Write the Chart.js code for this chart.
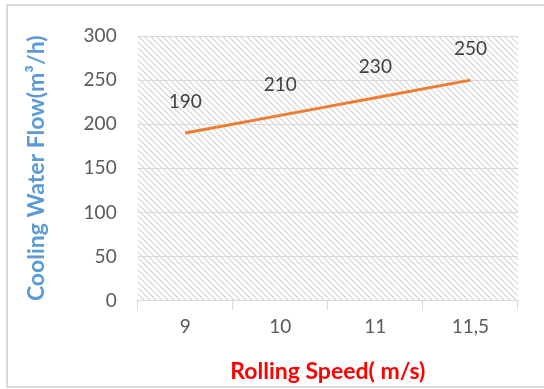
<!DOCTYPE html>
<html>
<head>
<meta charset="utf-8">
<script src="https://cdn.jsdelivr.net/npm/chart.js@4.4.1/dist/chart.umd.min.js"></script>
<style>
  body { margin: 0; background: #fff; overflow: hidden; }
  #wrap { position: relative; width: 544px; height: 389px; }
  #frame { position: absolute; left: 6px; top: 4px; width: 560px; height: 380px; border: 2px solid #d9d9d9; }
  canvas { position: absolute; left: 0; top: 0; }
</style>
</head>
<body>
<div id="wrap">
  <div id="frame"></div>
  <canvas id="flowChart" width="544" height="389"></canvas>
</div>
<script>
// values
const speeds = ['9', '10', '11', '11,5'];
const flowValues = [190, 210, 230, 250];
const yMin = 0;
const yMax = 300;
const yStep = 50;

const xTitle = 'Rolling Speed( m/s)';
const yTitle = 'Cooling Water Flow(m\u00b3/h)';

const FONT = 'Lato, "Open Sans", sans-serif';

// diagonal hatch for the plot area
function makeHatch() {
    const pc = document.createElement('canvas');
    pc.width = 6;
    pc.height = 6;
    const c = pc.getContext('2d');
    c.strokeStyle = '#d4d4d4';
    c.lineWidth = 1.2;
    c.beginPath();
    c.moveTo(-1, -1); c.lineTo(7, 7);
    c.moveTo(-4, 2); c.lineTo(4, 10);
    c.moveTo(2, -4); c.lineTo(10, 4);
    c.stroke();
    return c.createPattern(pc, 'repeat');
}

const hatchBg = {
    id: 'hatchBg',
    beforeDraw(chart) {
        const a = chart.chartArea;
        const ctx = chart.ctx;
        ctx.save();
        ctx.fillStyle = makeHatch();
        ctx.fillRect(a.left, a.top, a.right - a.left, a.bottom - a.top);
        ctx.restore();
    }
};

const valueLabels = {
    id: 'valueLabels',
    afterDatasetsDraw(chart) {
        const ctx = chart.ctx;
        const meta = chart.getDatasetMeta(0);
        ctx.save();
        ctx.font = '19px ' + FONT;
        ctx.fillStyle = '#404040';
        ctx.textAlign = 'center';
        ctx.textBaseline = 'middle';
        meta.data.forEach((pt, i) => {
            ctx.fillText(String(flowValues[i]), pt.x, pt.y - 31);
        });
        ctx.restore();
    }
};

const ctx = document.getElementById('flowChart').getContext('2d');
new Chart(ctx, {
    type: 'line',
    data: {
        labels: speeds,
        datasets: [{
            data: flowValues,
            borderColor: '#ed7d31',
            borderWidth: 3,
            pointRadius: 0,
            tension: 0,
            fill: false
        }]
    },
    options: {
        responsive: false,
        animation: false,
        layout: { padding: { left: 23, right: 26, top: 36, bottom: 4 } },
        plugins: {
            legend: { display: false },
            tooltip: { enabled: false }
        },
        scales: {
            x: {
                offset: true,
                grid: {
                    offset: true,
                    drawOnChartArea: false,
                    drawTicks: true,
                    tickLength: 9,
                    color: '#d9d9d9'
                },
                border: { display: true, color: '#d9d9d9', width: 1 },
                ticks: {
                    color: '#595959',
                    font: { family: FONT, size: 19 },
                    padding: 6,
                    maxRotation: 0
                },
                title: {
                    display: true,
                    text: xTitle,
                    color: '#ff0000',
                    font: { family: FONT, size: 23, weight: 'bold' },
                    padding: { top: 13, bottom: 0 }
                }
            },
            y: {
                min: yMin,
                max: yMax,
                ticks: {
                    stepSize: yStep,
                    color: '#595959',
                    font: { family: FONT, size: 19 },
                    padding: 21
                },
                grid: { color: '#d9d9d9', drawTicks: false },
                border: { display: false },
                title: {
                    display: true,
                    text: yTitle,
                    color: '#5b9bd5',
                    font: { family: FONT, size: 23, weight: 'bold' },
                    padding: { top: 0, bottom: 12 }
                }
            }
        }
    },
    plugins: [hatchBg, valueLabels]
});
</script>
</body>
</html>
